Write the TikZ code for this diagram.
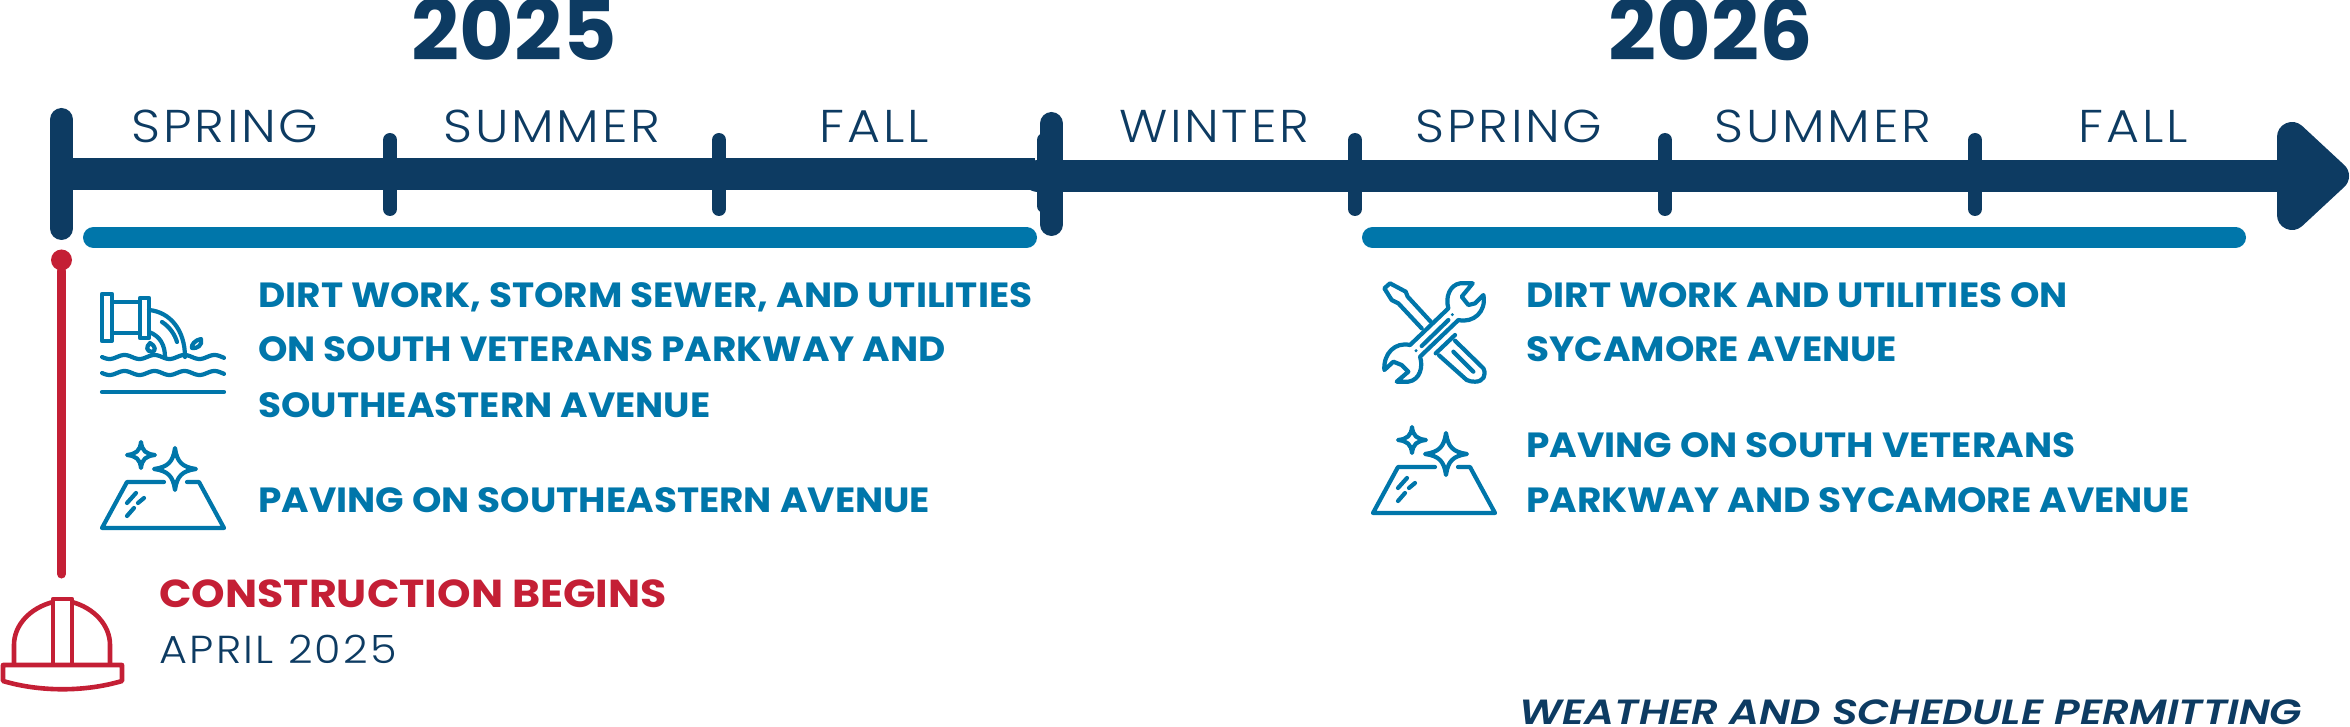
\documentclass[tikz,border=0pt]{standalone}
\usepackage{fontspec}
\setmainfont{Poppins}[UprightFont=* Light]
\newfontfamily\yearfont{Poppins}[UprightFont=* Bold]
\newfontfamily\seasonfont{Poppins}[UprightFont=* Light,FakeStretch=1.1,LetterSpace=6]
\newfontfamily\workfont{Poppins}[UprightFont=* Bold,FakeStretch=1.07]
\newfontfamily\beginsfont{Poppins}[UprightFont=* Bold,FakeStretch=1.095]
\newfontfamily\weatherfont{Poppins}[UprightFont=* SemiBold Italic,FakeStretch=1.2]
\definecolor{navy}{HTML}{0D3B62}
\definecolor{steel}{HTML}{0076AA}
\definecolor{brick}{HTML}{C41F35}
\tikzset{
  yeartext/.style={anchor=base,inner sep=0pt,text=navy,font=\yearfont\fontsize{42}{42}\selectfont},
  seasontext/.style={anchor=base,inner sep=0pt,text=navy,font=\seasonfont\fontsize{23}{23}\selectfont},
  worktext/.style={anchor=base west,inner sep=0pt,text=steel,font=\workfont\fontsize{17.5}{17.5}\selectfont},
  tickmark/.style={line width=7pt,line cap=round,navy},
  iconline/.style={line width=2.1pt,line cap=round,line join=round,steel},
  workbar/.style={line width=10.5pt,line cap=round,steel},
  pics/pavingicon/.style={code={
    \draw [iconline] (164,482) -- (127,482) -- (102,528) -- (224,528) -- (199,482) -- (187,482);
    \draw [iconline] (175,448) .. controls (177,462) and (182,467) .. (196,469) .. controls (182,471) and (177,476) .. (175,490) .. controls (173,476) and (168,471) .. (154,469) .. controls (168,467) and (173,462) .. (175,448) -- cycle;
    \draw [iconline] (141,442) .. controls (142,451) and (146,454) .. (155,455) .. controls (146,456) and (142,459) .. (141,468) .. controls (140,459) and (136,456) .. (127,455) .. controls (136,454) and (140,451) .. (141,442) -- cycle;
    \draw [iconline] (127,503) -- (136,493);
    \draw [iconline] (138,503) -- (144,498);
    \draw [iconline] (127,516) -- (134,508);
  }}
}
\begin{document}
\begin{tikzpicture}[x=0.5pt,y=-0.5pt]
\useasboundingbox (0,0) rectangle (2350,727);

\node [yeartext] (year1) at (514,61) {2025};
\node [yeartext] (year2) at (1711,61) {2026};
\node [seasontext] (spring1) at (225,143) {SPRING};
\node [seasontext] (summer1) at (552,143) {SUMMER};
\node [seasontext] (fall1) at (874,143) {FALL};
\node [seasontext] (winter) at (1214,143) {WINTER};
\node [seasontext] (spring2) at (1509,143) {SPRING};
\node [seasontext] (summer2) at (1823,143) {SUMMER};
\node [seasontext] (fall2) at (2133,143) {FALL};

\draw [navy,line width=16pt] (60,174) -- (1035,174);
\draw [navy,line width=16pt,line cap=round] (1038,176) -- (2285,176);
\draw [navy,line width=15pt,line join=round,fill=navy] (2292,137) -- (2334,176) -- (2292,215) -- cycle;
\draw [navy,line width=11.5pt,line cap=round] (61.5,119.5) -- (61.5,228.5);
\draw [navy,line width=11.5pt,line cap=round] (1051.5,123.5) -- (1051.5,224.5);
\draw [tickmark] (1044,140) -- (1044,206);
\draw [tickmark] (390,140) -- (390,209);
\draw [tickmark] (719,140) -- (719,209);
\draw [tickmark] (1355,140) -- (1355,209);
\draw [tickmark] (1665,140) -- (1665,209);
\draw [tickmark] (1975,140) -- (1975,209);
\draw [workbar] (93.5,237.5) -- (1026.5,237.5);
\draw [workbar] (1372.5,237.5) -- (2235.5,237.5);

\node [circle,fill=brick,inner sep=0pt,minimum size=10.5pt] (startdot) at (61.5,260) {};
\coordinate (stemend) at (61.5,574);
\draw [brick,line width=4.5pt,line cap=round] (startdot) -- (stemend);

\begin{scope}[brick,line width=2.3pt,line join=round]
\draw (3,665) -- (122,665) -- (122,681) .. controls (85,692) and (40,692) .. (3,681) -- cycle;
\draw (53,665) -- (53,599) -- (72,599) -- (72,665);
\draw (14,665) -- (14,645) .. controls (14,625) and (30,608) .. (53,602);
\draw (110,665) -- (110,645) .. controls (110,625) and (94,608) .. (72,602);
\end{scope}

\node [worktext] (work1) at (258,307) {DIRT WORK, STORM SEWER, AND UTILITIES};
\node [worktext] (work2) at (258,361) {ON SOUTH VETERANS PARKWAY AND};
\node [worktext] (work3) at (258,417) {SOUTHEASTERN AVENUE};
\node [worktext] (work4) at (258,512) {PAVING ON SOUTHEASTERN AVENUE};
\node [worktext] (work5) at (1526,307) {DIRT WORK AND UTILITIES ON};
\node [worktext] (work6) at (1526,361) {SYCAMORE AVENUE};
\node [worktext] (work7) at (1526,457) {PAVING ON SOUTH VETERANS};
\node [worktext] (work8) at (1526,512) {PARKWAY AND SYCAMORE AVENUE};

\node [anchor=base west,inner sep=0pt,text=brick,font=\beginsfont\fontsize{19.5}{19.5}\selectfont] (begins) at (159,607) {CONSTRUCTION BEGINS};
\node [anchor=base west,inner sep=0pt,text=navy,font=\seasonfont\fontsize{19.5}{19.5}\selectfont] (april) at (159,663) {APRIL 2025};
\node [anchor=base west,inner sep=0pt,text=navy,font=\weatherfont\fontsize{17.5}{17.5}\selectfont] (weather) at (1519,724) {WEATHER AND SCHEDULE PERMITTING};

\draw [iconline] (102,294) rectangle (112,341);
\draw [iconline] (140,298) rectangle (149,338);
\draw [iconline] (112,302) -- (140,302);
\draw [iconline] (112,333) -- (140,333);
\draw [iconline] (149,310) .. controls (170,312) and (185,330) .. (185,357);
\draw [iconline] (149,332) .. controls (160,336) and (165,345) .. (165,357);
\draw [iconline] (162,322) .. controls (170,327) and (175,335) .. (177,342);
\draw [iconline] (150,343) .. controls (146,347) and (146,351) .. (152,352) .. controls (156,351) and (156,346) .. (150,343) -- cycle;
\draw [iconline] (201,339) .. controls (195,340) and (191,345) .. (192,348) .. controls (197,349) and (203,345) .. (201,339) -- cycle;
\draw [iconline,domain=102:224,samples=70] plot (\x,{357+2*sin((\x-102)*12)});
\draw [iconline,domain=102:224,samples=70] plot (\x,{373+2*sin((\x-102)*12)});
\draw [iconline] (102,392) -- (224,392);
\pic at (0,0) {pavingicon};
\pic at (1271,-15) {pavingicon};

\begin{scope}[shift={(1340,250)},x=0.1667pt,y=-0.1667pt]
\draw [iconline] (398,100) -- (360,100) .. controls (330,105) and (315,140) .. (325,175) -- (210,285) .. controls (165,275) and (130,310) .. (133,360) -- (160,335) -- (185,345) -- (205,365) -- (170,395) -- (205,395) .. controls (240,390) and (250,350) .. (240,320) -- (355,210) .. controls (400,220) and (440,185) .. (430,135) -- (405,160) -- (385,165) -- (365,140) -- cycle;
\draw [iconline] (245,288) -- (325,210);
\fill [steel] (337,194) circle (5) (228,302) circle (5);
\draw [iconline] (245,235) -- (175,160) -- (155,150) -- (133,115) -- (150,100) -- (197,125) -- (203,140) -- (272,215);
\draw [iconline] (287,310) -- (345,255);
\draw [iconline] (345,272) -- (430,355) .. controls (440,375) and (430,395) .. (405,395) .. controls (395,395) and (390,394) .. (380,390) -- (297,316);
\draw [iconline] (340,305) -- (400,365);
\end{scope}
\end{tikzpicture}
\end{document}
